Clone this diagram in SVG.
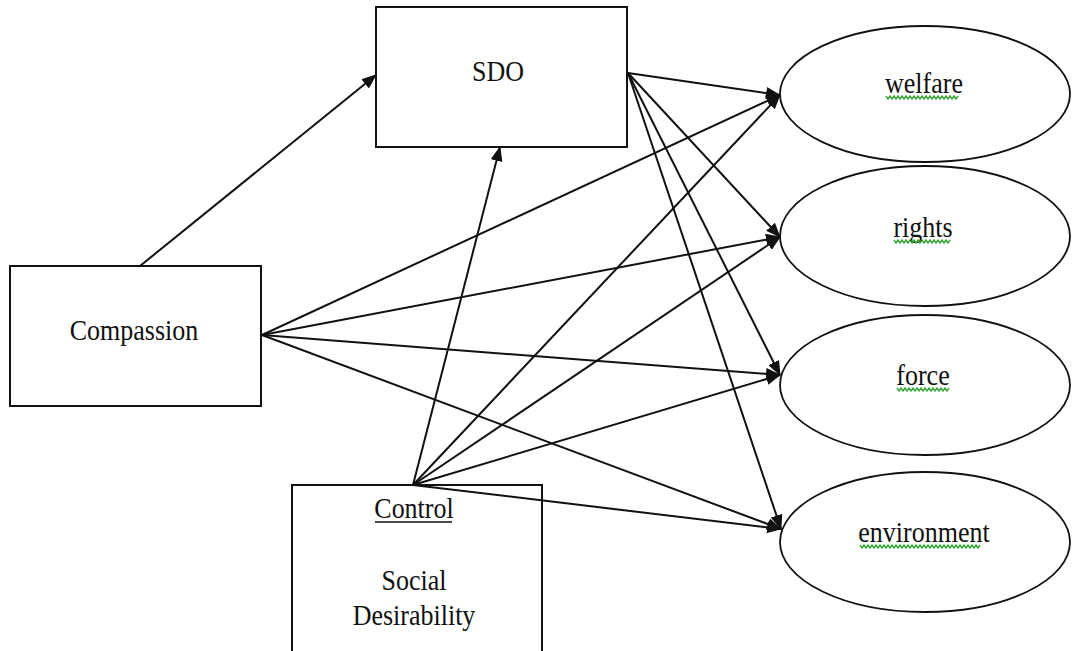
<svg xmlns="http://www.w3.org/2000/svg" width="1074" height="651" viewBox="0 0 1074 651">
  <style>
    .box { fill: #fff; stroke: #111; stroke-width: 2; }
    .oval { fill: #fff; stroke: #111; stroke-width: 1.8; }
    .label { font-family: "Liberation Serif", "Times New Roman", serif; font-size: 26px; fill: #111; text-anchor: middle; }
    .edge { stroke: #111; stroke-width: 2; fill: none; marker-end: url(#arrow); }
    .squiggle { stroke: #3aa63a; stroke-width: 1.4; fill: none; }
  </style>
  <defs>
    <marker id="arrow" markerUnits="userSpaceOnUse" markerWidth="16" markerHeight="12" refX="14" refY="6" orient="auto">
      <path d="M0,0 L15,6 L0,12 z" fill="#111"/>
    </marker>
  </defs>

  <rect width="1074" height="651" fill="#fff"/>

  <!-- predictor boxes -->
  <g id="sdo">
    <rect class="box" x="376" y="7" width="251" height="140"/>
    <text class="label" transform="translate(498 81) scale(1 1.15)">SDO</text>
  </g>
  <g id="compassion">
    <rect class="box" x="10" y="266" width="251" height="140"/>
    <text class="label" transform="translate(134 340) scale(1 1.15)">Compassion</text>
  </g>
  <g id="control">
    <rect class="box" x="292" y="485" width="250" height="180"/>
    <text class="label" transform="translate(414 518) scale(1 1.15)">Control</text>
    <line x1="375" y1="522" x2="452" y2="522" stroke="#111" stroke-width="1.5"/>
    <text class="label" transform="translate(414 590) scale(1 1.15)">Social</text>
    <text class="label" transform="translate(414 625) scale(1 1.15)">Desirability</text>
  </g>

  <!-- outcome ovals -->
  <g id="welfare">
    <ellipse class="oval" cx="925" cy="94" rx="145" ry="68"/>
    <text class="label" transform="translate(924 93) scale(1 1.15)">welfare</text>
    <path class="squiggle" d="M886 96 l2 3 2 -3 2 3 2 -3 2 3 2 -3 2 3 2 -3 2 3 2 -3 2 3 2 -3 2 3 2 -3 2 3 2 -3 2 3 2 -3 2 3 2 -3 2 3 2 -3 2 3 2 -3 2 3 2 -3 2 3 2 -3 2 3 2 -3 2 3 2 -3 2 3 2 -3 2 3 2 -3"/>
  </g>
  <g id="rights">
    <ellipse class="oval" cx="925" cy="236" rx="145" ry="70"/>
    <text class="label" transform="translate(923 237) scale(1 1.15)">rights</text>
    <path class="squiggle" d="M894 240 l2 3 2 -3 2 3 2 -3 2 3 2 -3 2 3 2 -3 2 3 2 -3 2 3 2 -3 2 3 2 -3 2 3 2 -3 2 3 2 -3 2 3 2 -3 2 3 2 -3 2 3 2 -3 2 3 2 -3 2 3 2 -3"/>
  </g>
  <g id="force">
    <ellipse class="oval" cx="925" cy="385" rx="145" ry="70"/>
    <text class="label" transform="translate(923 385) scale(1 1.15)">force</text>
    <path class="squiggle" d="M897 388 l2 3 2 -3 2 3 2 -3 2 3 2 -3 2 3 2 -3 2 3 2 -3 2 3 2 -3 2 3 2 -3 2 3 2 -3 2 3 2 -3 2 3 2 -3 2 3 2 -3 2 3 2 -3 2 3 2 -3"/>
  </g>
  <g id="environment">
    <ellipse class="oval" cx="925" cy="542" rx="145" ry="70"/>
    <text class="label" transform="translate(924 542) scale(1 1.15)">environment</text>
    <path class="squiggle" d="M860 545 l2 3 2 -3 2 3 2 -3 2 3 2 -3 2 3 2 -3 2 3 2 -3 2 3 2 -3 2 3 2 -3 2 3 2 -3 2 3 2 -3 2 3 2 -3 2 3 2 -3 2 3 2 -3 2 3 2 -3 2 3 2 -3 2 3 2 -3 2 3 2 -3 2 3 2 -3 2 3 2 -3 2 3 2 -3 2 3 2 -3 2 3 2 -3 2 3 2 -3 2 3 2 -3 2 3 2 -3 2 3 2 -3 2 3 2 -3 2 3 2 -3 2 3 2 -3 2 3 2 -3 2 3 2 -3"/>
  </g>

  <!-- paths -->
  <g id="connectors">
    <line class="edge" x1="140" y1="266" x2="376" y2="75"/>
    <line class="edge" x1="413" y1="485" x2="500" y2="147"/>

    <line class="edge" x1="628" y1="73" x2="780" y2="95"/>
    <line class="edge" x1="628" y1="73" x2="780" y2="237"/>
    <line class="edge" x1="628" y1="73" x2="780" y2="375"/>
    <line class="edge" x1="628" y1="73" x2="781" y2="529"/>

    <line class="edge" x1="262" y1="335" x2="780" y2="95"/>
    <line class="edge" x1="262" y1="335" x2="780" y2="237"/>
    <line class="edge" x1="262" y1="335" x2="780" y2="375"/>
    <line class="edge" x1="262" y1="335" x2="781" y2="529"/>

    <line class="edge" x1="413" y1="485" x2="780" y2="95"/>
    <line class="edge" x1="413" y1="485" x2="780" y2="237"/>
    <line class="edge" x1="413" y1="485" x2="780" y2="375"/>
    <line class="edge" x1="413" y1="485" x2="781" y2="529"/>
  </g>
</svg>
